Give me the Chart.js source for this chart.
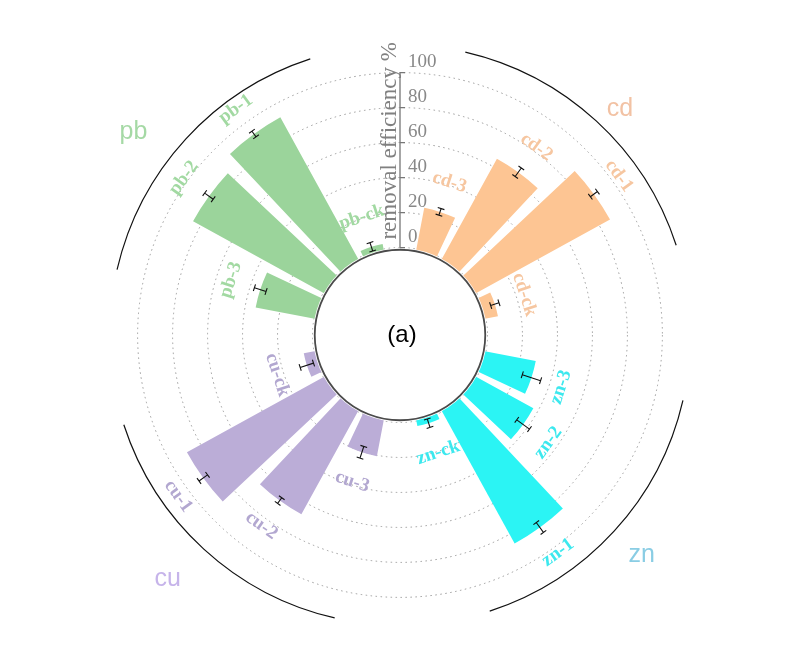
<!DOCTYPE html>
<html>
<head>
<meta charset="utf-8">
<script src="https://cdn.jsdelivr.net/npm/chart.js@4.4.1/dist/chart.umd.min.js"></script>
<style>
  html, body { margin: 0; padding: 0; background: #fff; overflow: hidden; }
  #wrap { width: 794px; height: 669px; overflow: hidden; }
</style>
</head>
<body>
<div id="wrap"><canvas id="chartRemoval" width="801" height="670"></canvas></div>
<script>
// groups go clockwise from the top, each group holds 4 bars (clockwise order)
const groups = ['cd', 'zn', 'cu', 'pb'];
const treatments = ['3', '2', '1', 'ck'];

const cdRemoval = [24, 65, 87, 7];
const cdError = [2, 3, 2.5, 2.5];
const znRemoval = [29, 37, 86, 3];
const znError = [5.5, 4.5, 3.5, 2.5];
const cuRemoval = [20.5, 67, 89, 6];
const cuError = [3.5, 2, 3, 4];
const pbRemoval = [34, 85, 92, 3];
const pbError = [3.5, 3, 2, 2.5];

const radialTicks = [0, 20, 40, 60, 80, 100];

const removalByGroup = [cdRemoval, znRemoval, cuRemoval, pbRemoval];
const errorByGroup = [cdError, znError, cuError, pbError];

const barColors = ['#FDC593', '#2BF4F4', '#BBADD7', '#9BD49B'];
const labelColors = ['#F6C6A0', '#3CE8EE', '#B2A7D0', '#A2D9A2'];
const groupColors = ['#F2C2A4', '#8ACDE4', '#C6B4EA', '#A5D9A5'];
// position of the big group names (angle from top, radius in axis units)
const groupLabelPos = [[44.2, 130.3], [132.3, 136.8], [223.6, 142.6], [307.3, 141.6]];

const AXIS_MIN = -50;
const AXIS_MAX = 141.5;
const SLOT = 18;     // degrees per slot, 20 slots
const BAR = 14.4;    // bar angular width
const CAP = 3.5;

// build slices for the polar area: empty slot at each group start, bars with small gaps
const sliceValues = [];
const sliceAngles = [];
const sliceColors = [];
const sliceInfo = [];

const pushSlice = (value, angle, color, info) => {
    sliceValues.push(value);
    sliceAngles.push(angle);
    sliceColors.push(color);
    sliceInfo.push(info);
};

for (let s = 0; s < 20; s++) {
    const g = Math.floor(s / 5);
    const k = (s % 5) - 1;
    if (k < 0) {
        pushSlice(AXIS_MIN, SLOT, 'rgba(0,0,0,0)', null);
        continue;
    }
    pushSlice(AXIS_MIN, (SLOT - BAR) / 2, 'rgba(0,0,0,0)', null);
    pushSlice(removalByGroup[g][k], BAR, barColors[g], { g, k });
    pushSlice(AXIS_MIN, (SLOT - BAR) / 2, 'rgba(0,0,0,0)', null);
}

const decorPlugin = {
    id: 'decor',
    afterDatasetsDraw(chart) {
        const ctx = chart.ctx;
        const scale = chart.scales.r;
        const xc = scale.xCenter;
        const yc = scale.yCenter;
        const rOf = v => scale.getDistanceFromCenterForValue(v);
        const r0 = rOf(0);

        ctx.save();
        ctx.setLineDash([]);

        // inner hole
        ctx.fillStyle = '#fff';
        ctx.beginPath();
        ctx.arc(xc, yc, r0 - 0.5, 0, Math.PI * 2);
        ctx.fill();
        ctx.strokeStyle = '#4a4a4a';
        ctx.lineWidth = 1.8;
        ctx.beginPath();
        ctx.arc(xc, yc, r0 - 2.2, 0, Math.PI * 2);
        ctx.stroke();

        ctx.fillStyle = '#000';
        ctx.font = '24px "Liberation Sans", Arial, sans-serif';
        ctx.textAlign = 'center';
        ctx.textBaseline = 'middle';
        ctx.fillText('(a)', xc + 2, yc);

        // error bars and bar names
        const meta = chart.getDatasetMeta(0);
        meta.data.forEach((arc, i) => {
            const info = sliceInfo[i];
            if (!info) return;
            const v = removalByGroup[info.g][info.k];
            const e = errorByGroup[info.g][info.k];
            const a = (arc.startAngle + arc.endAngle) / 2;
            const cos = Math.cos(a);
            const sin = Math.sin(a);
            const r1 = rOf(v - e);
            const r2 = rOf(v + e);

            ctx.strokeStyle = '#111';
            ctx.lineWidth = 1.1;
            ctx.beginPath();
            ctx.moveTo(xc + r1 * cos, yc + r1 * sin);
            ctx.lineTo(xc + r2 * cos, yc + r2 * sin);
            [r1, r2].forEach(r => {
                const px = xc + r * cos;
                const py = yc + r * sin;
                ctx.moveTo(px - CAP * sin, py + CAP * cos);
                ctx.lineTo(px + CAP * sin, py - CAP * cos);
            });
            ctx.stroke();

            const rl = rOf(v) + 31;
            let theta = (a * 180 / Math.PI + 90 + 720) % 360;
            const rot = (theta > 90 && theta < 270) ? theta - 180 : theta;
            ctx.save();
            ctx.translate(xc + rl * cos, yc + rl * sin);
            ctx.rotate(rot * Math.PI / 180);
            ctx.fillStyle = labelColors[info.g];
            ctx.font = 'bold 19px "Liberation Serif", "Times New Roman", serif';
            ctx.textAlign = 'center';
            ctx.textBaseline = 'middle';
            ctx.fillText(groups[info.g] + '-' + treatments[info.k], 0, 0);
            ctx.restore();
        });

        // group arcs and names
        const rArc = rOf(116);
        groups.forEach((name, g) => {
            const a1 = (90 * g + 13 - 90) * Math.PI / 180;
            const a2 = (90 * g + 72 - 90) * Math.PI / 180;
            ctx.strokeStyle = '#111';
            ctx.lineWidth = 1.2;
            ctx.beginPath();
            ctx.arc(xc, yc, rArc, a1, a2);
            ctx.stroke();

            const [deg, val] = groupLabelPos[g];
            const ang = (deg - 90) * Math.PI / 180;
            const rr = rOf(val);
            ctx.fillStyle = groupColors[g];
            ctx.font = '25px "Liberation Sans", Arial, sans-serif';
            ctx.textAlign = 'center';
            ctx.textBaseline = 'middle';
            ctx.fillText(name, xc + rr * Math.cos(ang), yc + rr * Math.sin(ang));
        });

        // radial axis at the top
        const yTop = yc - rOf(radialTicks[radialTicks.length - 1]);
        ctx.strokeStyle = '#777';
        ctx.lineWidth = 1.3;
        ctx.beginPath();
        ctx.moveTo(xc, yc - r0);
        ctx.lineTo(xc, yTop);
        radialTicks.forEach(t => {
            const y = yc - rOf(t);
            ctx.moveTo(xc, y);
            ctx.lineTo(xc + 5, y);
        });
        ctx.stroke();

        ctx.fillStyle = '#888';
        ctx.font = '19px "Liberation Serif", "Times New Roman", serif';
        ctx.textAlign = 'left';
        ctx.textBaseline = 'middle';
        radialTicks.forEach(t => {
            ctx.fillText(String(t), xc + 8, yc - rOf(t) - 11);
        });

        ctx.save();
        ctx.translate(xc - 4, yc - rOf(61));
        ctx.rotate(-Math.PI / 2);
        ctx.fillStyle = '#808080';
        ctx.font = '23px "Liberation Serif", "Times New Roman", serif';
        ctx.textAlign = 'center';
        ctx.textBaseline = 'alphabetic';
        ctx.fillText('removal efficiency %', 0, 0);
        ctx.restore();

        ctx.restore();
    }
};

const canvas = document.getElementById('chartRemoval');
const chartRemoval = new Chart(canvas.getContext('2d'), {
    type: 'polarArea',
    data: {
        labels: sliceValues.map((v, i) => String(i)),
        datasets: [{
            data: sliceValues,
            backgroundColor: sliceColors,
            borderWidth: 0,
            angle: (c) => sliceAngles[c.dataIndex]
        }]
    },
    options: {
        responsive: false,
        animation: false,
        layout: { padding: 0 },
        plugins: {
            legend: { display: false },
            tooltip: { enabled: false }
        },
        scales: {
            r: {
                min: AXIS_MIN,
                max: AXIS_MAX,
                startAngle: -SLOT / 2,
                afterBuildTicks: (scale) => {
                    scale.ticks = radialTicks.map(v => ({ value: v }));
                },
                ticks: { display: false },
                pointLabels: { display: false },
                angleLines: { display: false },
                grid: { circular: true, color: '#9a9a9a', lineWidth: 1 },
                border: { dash: [1.5, 3.5] }
            }
        }
    },
    plugins: [decorPlugin]
});
</script>
</body>
</html>
